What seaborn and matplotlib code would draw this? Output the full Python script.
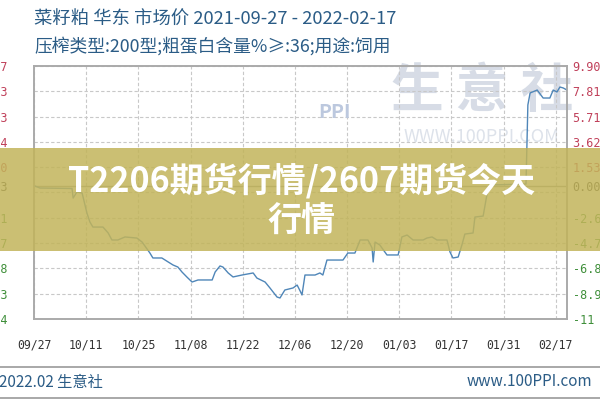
import numpy as np
import pandas as pd
import matplotlib
matplotlib.use("Agg")
import matplotlib.pyplot as plt
from matplotlib.patches import Rectangle, Polygon
import seaborn as sns

# ---------------- data ----------------
days = [0, 1.6, 10.2, 10.5, 11.5, 12.9, 14.2, 15.0, 15.8, 18.5, 19.9, 20.9, 22.5, 24.4,
        27.6, 29.0, 31.1, 31.9, 34.3, 36.0, 37.3, 38.6, 39.7, 41.0, 42.4, 44.0, 47.8,
        48.6, 49.9, 50.7, 52.1, 53.4, 55.8, 58.8, 59.8, 62.0, 63.3, 65.2, 66.0, 67.3,
        69.5, 70.6, 71.4, 71.9, 72.7, 75.4, 76.7, 77.5, 78.6, 82.9, 84.2, 86.1, 87.5,
        89.6, 90.7, 91.0, 91.5, 92.8, 94.7, 97.7, 98.7, 100.1, 101.7, 104.4, 105.4,
        106.8, 108.1, 110.8, 111.6, 112.4, 113.8, 114.8, 115.6, 117.8, 118.3, 120.5,
        121.5, 122.1, 132.0, 132.3, 132.5, 133.1, 135.0, 135.8, 136.6, 138.4, 139.3,
        140.3, 141.1, 142.0, 143.0]
change_pct = [0.0, -0.20, -0.24, -1.03, -0.53, -0.61, -2.27, -3.01, -3.43, -3.43, -3.92,
              -4.50, -4.50, -4.25, -4.34, -4.67, -5.58, -5.99, -5.99, -6.32, -6.57, -6.74,
              -7.15, -7.56, -7.98, -7.81, -7.81, -7.15, -6.65, -6.74, -7.23, -7.56, -7.40,
              -7.23, -7.65, -7.98, -8.47, -9.22, -9.30, -8.64, -8.47, -8.23, -8.72, -9.05,
              -7.40, -7.40, -7.23, -7.40, -6.16, -6.16, -5.58, -5.58, -4.50, -4.50, -5.16,
              -6.32, -4.67, -4.92, -5.74, -5.74, -4.25, -4.09, -4.50, -4.50, -4.34, -4.25,
              -4.50, -4.50, -5.49, -5.99, -5.91, -4.92, -4.01, -3.92, -2.60, -2.52, -0.78,
              0.05, 0.13, 4.02, 6.67, 7.67, 7.91, 7.58, 7.25, 7.25, 7.91, 7.75, 8.16,
              8.08, 7.91]

x_tick_days = [0, 14, 28, 42, 56, 70, 84, 98, 112, 126, 140]
x_tick_labels = ["09/27", "10/11", "10/25", "11/08", "11/22", "12/06", "12/20",
                 "01/03", "01/17", "01/31", "02/17"]

y_grid_pct = [9.90, 7.806, 5.712, 3.618, 1.524, -0.57, -2.664, -4.758, -6.852, -8.946, -11.04]
y_label_pct = [9.90, 7.806, 5.712, 3.618, 1.524, 0.0, -2.664, -4.758, -6.852, -8.946, -11.04]
right_labels = ["9.90", "7.81", "5.71", "3.62", "1.53", "0.00", "-2.6", "-4.7", "-6.8", "-8.9", "-11"]
left_labels = ["3257", "3193", "3133", "3074", "3010", "2963", "2881", "2817", "2758", "2693", "2634"]

title1 = "菜籽粕 华东 市场价 2021-09-27 - 2022-02-17"
title2 = "压榨类型:200型;粗蛋白含量%≥:36;用途:饲用"
banner = "T2206期货行情/2607期货今天\n行情"
footer_left = "2022.02 生意社"
footer_right = "www.100PPI.com"

df = pd.DataFrame({"day": days, "pct": change_pct})

# ---------------- figure ----------------
sns.set_style("white")
plt.rcParams["font.family"] = ["Noto Sans CJK SC", "DejaVu Sans"]

W, H = 600, 400
fig = plt.figure(figsize=(6, 4), dpi=100)
fig.patch.set_facecolor("white")

def fx(px):
    return px / W

def fy(py):
    return 1 - py / H

ax = fig.add_axes([fx(34), fy(319), fx(567) - fx(34), (319 - 66) / H])
ax.set_xlim(0, 143)
ax.set_ylim(-11.04, 9.90)

# grid
for v in y_grid_pct:
    ax.axhline(v, color="#c8c8c8", lw=0.8, ls=(0, (3, 2)), zorder=1)
for d in x_tick_days:
    ax.axvline(d, color="#c8c8c8", lw=0.8, ls=(0, (3, 2)), zorder=1)
ax.axhline(0, color="#9a9a9a", lw=1.0, zorder=2)

sns.lineplot(data=df, x="day", y="pct", ax=ax, color="#4f86b8", lw=1.0, zorder=5)

ax.set_xlabel("")
ax.set_ylabel("")
ax.set_xticks(x_tick_days)
ax.set_xticklabels(x_tick_labels, family="DejaVu Sans Mono", fontsize=8.3, color="#333333")
ax.tick_params(axis="x", length=0, pad=14)

ax.set_yticks(y_label_pct)
ax.set_yticklabels(left_labels, family="DejaVu Sans Mono", fontsize=8.5)
ax.tick_params(axis="y", length=0, pad=19)
for lab, v in zip(ax.get_yticklabels(), y_label_pct):
    lab.set_color("#c0405a" if v > 0 else ("#333333" if v == 0 else "#3f8f3a"))

ax2 = ax.twinx()
ax2.set_ylim(ax.get_ylim())
ax2.set_yticks(y_label_pct)
ax2.set_yticklabels(right_labels, family="DejaVu Sans Mono", fontsize=8.5)
ax2.tick_params(axis="y", length=0, pad=4)
for lab, v in zip(ax2.get_yticklabels(), y_label_pct):
    lab.set_color("#c0405a" if v > 0 else ("#333333" if v == 0 else "#3f8f3a"))

for a in (ax, ax2):
    for s in a.spines.values():
        s.set_color("#aaaaaa")
        s.set_linewidth(1.2)

# watermark
ax.text(0.84, 0.9, "生 意 社", transform=ax.transAxes, fontsize=38, color="#cdd4e0",
        ha="center", va="center", fontweight="bold", alpha=0.8, zorder=0)
ax.text(0.84, 0.72, "WWW.100PPI.COM", transform=ax.transAxes, fontsize=13, color="#dde2ea",
        ha="center", va="center", zorder=0)
fig.add_artist(Polygon([[fx(303), fy(100)], [fx(334), fy(68)], [fx(365), fy(100)]],
                       closed=True, transform=fig.transFigure, color="#f2c6c6", zorder=0))
fig.add_artist(Polygon([[fx(303), fy(125)], [fx(334), fy(152)], [fx(365), fy(125)]],
                       closed=True, transform=fig.transFigure, color="#cfe3cf", zorder=0))
fig.text(fx(334), fy(112), "PPI", fontsize=14, color="#bcc8de", ha="center", va="center",
         fontweight="bold")

# titles
fig.text(fx(34), fy(20), title1, fontsize=13.2, color="#2b5c86", ha="left", va="center")
fig.text(fx(34), fy(46), title2, fontsize=12.8, color="#2b5c86", ha="left", va="center")

# footer
fig.add_artist(plt.Line2D([0, 1], [fy(367), fy(367)], color="#9a9a9a", lw=1.2,
                          transform=fig.transFigure))
fig.add_artist(plt.Line2D([0, 1], [fy(398), fy(398)], color="#9a9a9a", lw=1.2,
                          transform=fig.transFigure))
fig.text(fx(-1), fy(382), footer_left, fontsize=11, color="#2b5c86", ha="left", va="center")
fig.text(fx(467), fy(382), footer_right, fontsize=11, color="#2b5c86", ha="left", va="center")

# banner overlay
fig.add_artist(Rectangle((0, fy(251)), 1, (251 - 148) / H, transform=fig.transFigure,
                         facecolor="#c2b45a", alpha=0.85, edgecolor="none", zorder=20))
fig.text(0.503, fy(201), banner, fontsize=24.5, color="white", fontweight="bold",
         ha="center", va="center", linespacing=1.2, zorder=21)

fig.savefig("out.png", dpi=100)
